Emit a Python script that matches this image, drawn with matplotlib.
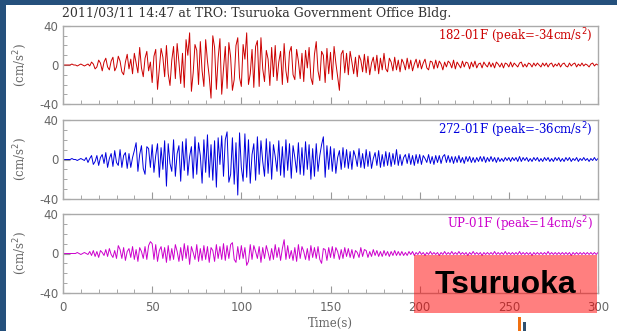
import matplotlib
matplotlib.use("Agg")
import matplotlib.pyplot as plt
from matplotlib.patches import Rectangle
from matplotlib.ticker import MultipleLocator

plt.rcParams["axes.unicode_minus"] = False

# acceleration samples, one per second, t = 0..300 s
ns_182 = [
    0, 0, 0, 0, 0, 1, 0, 0, -1, 0, 1, 0, -1, 0, 1,
    -1, 3, 1, -4, -2,
    5, 2, -6, 3, 7, -2, -5, 4, 8, -6,
    -2, 9, 4, -7, -10, 3, 11, -4, 6, -9,
    12, 2, -8, 18, -3, -12, 7, 14, -6, 3,
    -18, 9, 16, -25, -4, 17, 8, -12, 20, -9,
    -21, 5, 19, -14, 22, 3, -19, 12, -23, 26,
    10, 33, -27, -8, 21, 15, -20, 24, -6, -22,
    26, 4, -12, -34, 30, 18, -25, 7, 27, -30,
    -4, 19, -24, 23, 8, -26, -15, 20, 28, -13,
    -22, 21, 6, 33, -20, -9, 16, -23, 19, 25,
    -22, 28, -4, -17, 15, 6, -21, 18, -12, 20,
    -16, 3, 14, -20, 22, -6, -18, 13, 19, -10,
    -15, 16, 4, -14, 12, -17, 15, -3, 18, -13,
    -20, 11, 24, -6, -16, 14, 10, -18, 17, -9,
    13, -15, 19, 2, -12, -26, 11, 15, -8, 12,
    -10, 14, 3, -9, 8, -12, 10, 5, -7, 11,
    -8, 9, -10, 2, 8, -6, 10, -9, 7, -5,
    12, -4, -7, 7, 3, -6, 8, -5, 5, -7,
    6, 2, -5, 7, -4, 5, -6, 1, 6, -3,
    5, -4, 2, 6, -3, -5, 4, 3, -4, 5,
    -3, 4, 1, -5, 3, -2, 4, 2, -3, 5,
    -4, 3, 0, -3, 4, -2, 3, 2, -4, 3,
    -2, 4, -3, 1, 2, -3, 3, 0, -2, 3,
    -2, 2, -3, 3, 1, -2, 2, -3, 2, 1,
    -2, 3, -2, 2, 0, -2, 2, 3, -2, 1,
    -2, 2, 1, -2, 2, -1, 2, 0, -2, 2,
    -1, 2, -2, 1, 2, -2, 1, -1, 2, -2,
    1, 2, -1, -2, 2, -1, 1, 2, -2, 1,
    -1, 2, -1, 1, 0, -2, 1, 2, -1, 1, 0,
]

ew_272 = [
    0, 0, 0, 0, 0, 1, 0, 0, -1, 0, 1, 0,
    -1, 2, -3, 1, 4, -5, -2, 4,
    -6, 2, 5, -4, 7, -8, 1, 6, -7, 9,
    -3, -6, 10, -8, 4, 7, -9, 6, -8, 2,
    9, 17, -12, 5, 14, -9, -15, 13, 11, -8,
    15, -13, 4, 16, -18, 12, -10, 19, -27, 16,
    -4, -12, 20, -17, 6, 14, -22, 18, -11, 21,
    -16, 3, 13, -19, 23, -15, 17, 4, -24, 20,
    -13, 25, -18, 15, -21, 19, -28, 22, -5, 24,
    -17, 20, 28, -23, -15, 22, -25, 17, -36, 27,
    -8, -22, 26, -18, 20, -24, 5, 16, -21, 23,
    -15, 19, -2, -17, 21, -14, 18, -20, 15, 3,
    -12, 19, -16, 13, -18, 20, -11, 16, -19, 14,
    2, -13, 17, -15, 12, -16, 18, -10, 15, -20,
    11, -17, 16, -12, 4, 15, 23, -18, 14, -10,
    13, -12, 11, -14, 2, 9, -10, 12, -8, 10,
    -9, 8, -10, 9, 3, -7, 11, -8, 6, -9,
    10, -7, 8, -9, 1, 7, -6, 9, -8, 5,
    -7, 8, -6, 7, -7, 6, -5, 10, -6, 5,
    -6, 2, 5, -4, 6, -5, 4, -6, 5, -4,
    5, -5, 4, 1, -3, 5, -4, 3, -5, 4,
    -3, 4, -4, 3, 5, -3, 4, -3, 3, -4,
    3, -3, 4, -3, 2, -4, 3, -2, 3, -3,
    2, -3, 2, -2, 3, -2, 3, -3, 2, -2,
    3, -2, 2, -3, 2, -2, 1, -2, 2, -1,
    2, -2, 2, -1, 2, -2, 3, -2, 2, -1,
    2, -2, 1, -2, 2, -1, 2, -2, 1, -2,
    2, -1, 2, -2, 1, -2, 2, -1, 2, -2,
    1, -2, 2, -1, 2, -2, 1, -1, 2, -2,
    1, -1, 2, -1, 1, -2, 1, -1, 2, -1, 1,
]

up = [
    0, 0, 0, 0, 0, 0, 0, 0, 1, 0, -1, 0, 1, 0, -1,
    2, -2, 3, -3, 2,
    -4, 3, 1, -2, 4, -3, 5, -1, -4, 3,
    -5, 8, 4, -5, 6, -7, 2, 5, -4, 7,
    -6, 4, -8, 6, 2, -5, 7, -6, 8, 12,
    10, -6, 9, -8, 3, 7, -5, 6, -9, 8,
    -7, 5, -6, 9, 2, -8, 6, -7, 10, -5,
    8, -11, 7, 1, -6, 9, -8, 5, -7, 8,
    -6, 7, -9, 6, 3, -8, 9, -5, 7, -6,
    10, -7, 8, -5, 9, 11, -6, -9, 7, -6,
    8, -5, 6, -12, -8, 9, -6, 8, 2, -5,
    7, -9, 6, -5, 8, 1, -7, 5, -6, 9,
    -4, 6, -7, 5, 14, -6, 8, -5, 3, -7,
    6, -8, 9, -5, 7, 2, -6, 5, -7, 8,
    -4, 6, -5, 7, -6, -10, 5, 4, -7, 6,
    -4, 7, -5, 6, 2, -6, 4, -5, 6, -3,
    5, -4, 4, -5, 3, 1, -4, 6, -3, 4,
    3, -4, 2, -3, 4, -2, 3, -3, 2, -3,
    3, -2, 2, -3, 2, -2, 3, -2, 2, -2,
    2, -2, 1, -2, 2, -1, 2, -2, 1, -1,
    2, -1, 1, -2, 1, -1, 2, -1, 1, -1,
    1, -2, 1, -1, 2, -1, 1, -1, 2, -1,
    1, -1, 2, -1, 1, -1, 1, -2, 1, -1,
    2, -1, 1, -1, 1, -2, 1, -1, 1, -1,
    1, -1, 2, -1, 1, -1, 1, -1, 2, -1,
    1, -1, 1, -1, 1, -1, 2, -1, 1, -1,
    1, -1, 1, -2, 1, -1, 1, -1, 1, -1,
    1, -1, 2, -1, 1, -1, 1, -1, 1, -1,
    1, -1, 1, -1, 1, -2, 1, -1, 1, -1,
    1, -1, 1, -1, 1, -1, 1, -1, 1, -1, 1,
]

traces = [ns_182, ew_272, up]
labels = ["182-01F (peak=-34cm/s$^2$)", "272-01F (peak=-36cm/s$^2$)", "UP-01F (peak=14cm/s$^2$)"]
colors = ["#cc0000", "#0000dd", "#cc00cc"]
title = "2011/03/11 14:47 at TRO: Tsuruoka Government Office Bldg."

W, H = 617, 331
fig = plt.figure(figsize=(W / 100, H / 100), dpi=100)
fig.patch.set_facecolor("#25507c")
fig.patches.append(Rectangle((6 / W, 0), 1, 1 - 5 / H, transform=fig.transFigure,
                             facecolor="white", edgecolor="none", zorder=-10))

serif = ["DejaVu Serif"]
grey = "#666666"

# top / bottom pixel rows of each panel
rows = [(26, 104), (120, 199), (214, 293)]
for i, (trace, lab, col) in enumerate(zip(traces, labels, colors)):
    top, bot = rows[i]
    ax = fig.add_axes([63 / W, 1 - bot / H, 535 / W, (bot - top) / H])
    t = list(range(len(trace)))
    ax.plot(t, trace, color=col, lw=0.7)
    ax.set_xlim(0, 300)
    ax.set_ylim(-40, 40)
    ax.set_yticks([-40, 0, 40])
    ax.xaxis.set_major_locator(MultipleLocator(50))
    ax.xaxis.set_minor_locator(MultipleLocator(10))
    ax.yaxis.set_minor_locator(MultipleLocator(10))
    for s in ax.spines.values():
        s.set_color("#aaaaaa")
        s.set_linewidth(1.0)
    ax.tick_params(which="both", direction="in", colors="#999999", labelcolor=grey,
                   labelsize=8.5, top=False, right=False)
    ax.tick_params(which="major", length=5)
    ax.tick_params(which="minor", length=3)
    ax.tick_params(axis="x", pad=6)
    if i < 2:
        ax.tick_params(axis="x", labelbottom=False)
    else:
        ax.set_xlabel("Time(s)", family=serif, fontsize=8.5, color=grey, labelpad=2)
    ax.set_ylabel("(cm/s$^2$)", family=serif, fontsize=8.5, color=grey, labelpad=7)
    ax.text(0.99, 0.87, lab, transform=ax.transAxes, ha="right", va="center",
            color=col, family=serif, fontsize=8.5)

fig.text(62 / W, 1 - 14 / H, title, family=serif, fontsize=9, color="#333333",
         va="center", ha="left")

# highlight box over lower right corner
fig.patches.append(Rectangle((414 / W, 1 - 313 / H), 183 / W, 58 / H, transform=fig.transFigure,
                             facecolor="#ff0000", alpha=0.5, edgecolor="none", zorder=20))
fig.text(505 / W, 1 - 285 / H, "Tsuruoka", family=["Liberation Sans", "DejaVu Sans"],
         fontweight="bold", fontsize=23, color="black", ha="center", va="center", zorder=21)

# small bars at the bottom edge
fig.patches.append(Rectangle((518 / W, 0), 3 / W, 14 / H, transform=fig.transFigure,
                             facecolor="#f07010", edgecolor="none", zorder=20))
fig.patches.append(Rectangle((523 / W, 0), 3 / W, 9 / H, transform=fig.transFigure,
                             facecolor="#30506e", edgecolor="none", zorder=20))

fig.savefig("out.png", dpi=100, facecolor=fig.get_facecolor())
